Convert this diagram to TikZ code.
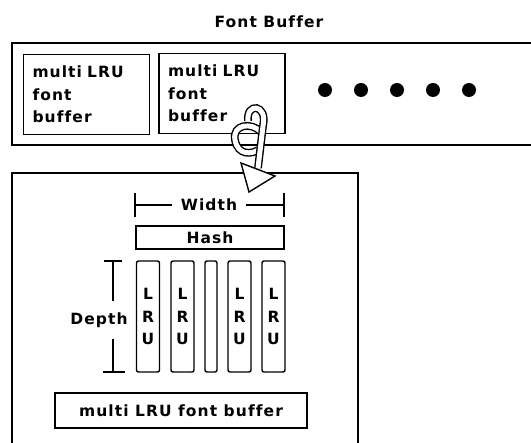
\documentclass[tikz,border=0pt]{standalone}
\usepackage{fontspec}
\newfontfamily\macfont{DejaVu Sans}[LetterSpace=7, Ligatures=CommonOff]
\usetikzlibrary{positioning}

\begin{document}
\begin{tikzpicture}[
  x=1pt, y=-1pt,
  every node/.style={font=\macfont\bfseries\fontsize{15.5}{22.5}\selectfont},
  frame/.style={line width=1.8pt},
  bufbox/.style={draw, line width=1.8pt, minimum width=126pt, minimum height=80pt,
                 align=left, text width=108pt, inner sep=0pt},
  lrucol/.style={draw, line width=1.4pt, rounded corners=2pt, minimum width=23pt,
                 minimum height=111pt, inner sep=0pt, align=center},
  dot/.style={circle, fill=black, minimum size=14pt, inner sep=0pt},
  dim/.style={line width=1.4pt},
  curl/.style={line width=1.4pt, double=white, double distance=5pt},
]
  \useasboundingbox (0,0) rectangle (531,443);

  % font buffer
  \node (title) at (269,22) {Font Buffer};
  \draw[frame] (531,43) -- (12,43) -- (12,145) -- (531,145);
  \node[bufbox] (fb1) at (86.5,94.5) {multi LRU\\font\\buffer};
  \node[bufbox] (fb2) at (222,93.5) {multi LRU\\font\\buffer};
  \foreach \i/\x in {1/325,2/361,3/397,4/433,5/469}
    \node[dot] (d\i) at (\x,90) {};

  % one multi LRU font buffer
  \draw[frame] (12,443) -- (12,173) -- (358,173) -- (358,443);

  \node[inner xsep=9pt] (width) at (209,205) {Width};
  \draw[dim] (135,193) -- (135,217);
  \draw[dim] (284,193) -- (284,217);
  \draw[dim] (135,205) -- (width.west);
  \draw[dim] (width.east) -- (284,205);

  \node[draw, line width=1.4pt, minimum width=148pt, minimum height=23pt, inner sep=0pt]
    (hash) at (210,237.5) {Hash};

  \node[lrucol] (c1) at (148,316.5) {L\\R\\U};
  \node[lrucol] (c2) at (182.5,316.5) {L\\R\\U};
  \node[lrucol, minimum width=12pt] (c3) at (211,316.5) {};
  \node[lrucol] (c4) at (239.5,316.5) {L\\R\\U};
  \node[lrucol] (c5) at (273.5,316.5) {L\\R\\U};

  \node (depth) at (99,320) {Depth};
  \draw[dim] (104,261) -- (122,261);
  \draw[dim] (103,372) -- (125,372);
  \draw[dim] (113,261) -- (113,301);
  \draw[dim] (113,339) -- (113,372);

  \node[draw, line width=1.8pt, minimum width=252pt, minimum height=35pt, inner sep=0pt]
    (mlfb) at (181,410.5) {multi LRU font buffer};

  % twisted arrow down into the buffer
  \draw[curl] (261,132) .. controls (252,122) and (232,124) .. (235,140)
    .. controls (238,156) and (252,154) .. (258,150);
  \draw[curl] (248,121) .. controls (246,102) and (268,104) .. (263,126) -- (258,168);
  \draw[line width=1.4pt, fill=white] (241,163) -- (275,176) -- (249,192) -- cycle;
\end{tikzpicture}
\end{document}
